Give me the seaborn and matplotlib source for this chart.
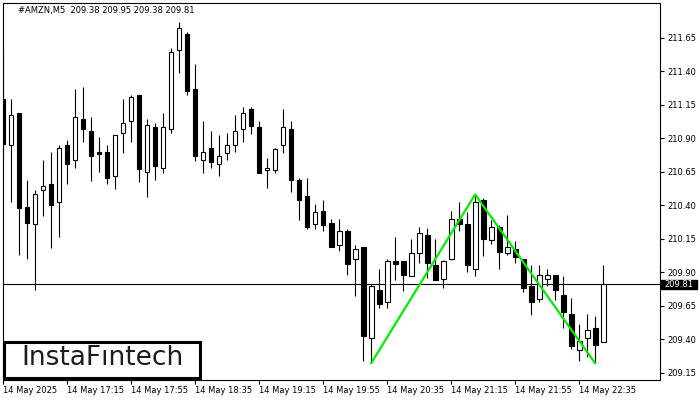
import numpy as np
import pandas as pd
import matplotlib
matplotlib.use("Agg")
import matplotlib.pyplot as plt
import matplotlib.transforms as mtransforms
from matplotlib.patches import Rectangle
import seaborn as sns

# AMZN M5 candles, 14 May 2025 16:35 .. 22:50
opens = [211.19, 210.85, 211.09, 210.39, 210.26, 210.51, 210.56, 210.42, 210.85, 210.74,
         211.04, 210.95, 210.80, 210.80, 210.62, 210.94, 211.03, 211.22, 210.65, 210.98,
         210.68, 210.97, 211.56, 211.68, 211.27, 210.74, 210.83, 210.71, 210.79, 210.85,
         210.97, 211.12, 210.98, 210.66, 210.66, 210.85, 210.97, 210.59, 210.47, 210.26,
         210.36, 210.27, 210.10, 210.21, 210.00, 210.09, 209.41, 209.77, 209.68, 209.98,
         209.98, 209.87, 210.04, 210.18, 209.95, 209.85, 210.00, 210.30, 210.26, 209.92,
         210.44, 210.14, 210.24, 210.04, 210.07, 210.00, 209.80, 209.70, 209.85, 209.88,
         209.73, 209.59, 209.32, 209.41, 209.48, 209.38]
highs = [211.53, 211.19, 211.09, 210.59, 210.51, 210.74, 210.80, 210.85, 210.89, 211.27,
         211.28, 211.06, 210.91, 210.85, 210.92, 211.19, 211.22, 211.22, 211.04, 211.01,
         211.09, 211.57, 211.77, 211.69, 211.45, 211.03, 210.95, 210.92, 210.94, 211.07,
         211.13, 211.13, 211.03, 210.75, 210.83, 211.12, 211.03, 210.60, 210.60, 210.41,
         210.44, 210.30, 210.30, 210.22, 210.10, 210.09, 209.81, 209.92, 210.00, 210.16,
         209.98, 210.15, 210.24, 210.23, 210.15, 209.99, 210.36, 210.42, 210.35, 210.48,
         210.45, 210.29, 210.25, 210.33, 210.13, 210.00, 209.95, 209.95, 209.92, 209.88,
         209.87, 209.71, 209.51, 209.59, 209.57, 209.95]
lows = [210.79, 210.42, 210.03, 210.00, 209.77, 210.32, 210.08, 210.16, 210.56, 210.68,
        210.87, 210.58, 210.65, 210.56, 210.52, 210.79, 210.87, 210.57, 210.46, 210.59,
        210.64, 210.94, 211.39, 211.22, 210.73, 210.64, 210.68, 210.62, 210.74, 210.80,
        210.87, 210.93, 210.64, 210.53, 210.64, 210.79, 210.50, 210.29, 210.22, 210.22,
        210.21, 210.09, 210.06, 209.88, 209.72, 209.24, 209.22, 209.63, 209.63, 209.84,
        209.76, 209.87, 209.97, 209.86, 209.84, 209.78, 209.99, 210.21, 209.90, 209.87,
        210.02, 210.11, 209.92, 210.03, 209.97, 209.75, 209.58, 209.68, 209.80, 209.69,
        209.48, 209.33, 209.24, 209.27, 209.22, 209.38]
closes = [210.86, 211.07, 210.38, 210.27, 210.48, 210.54, 210.40, 210.83, 210.71, 211.06,
          210.97, 210.77, 210.78, 210.60, 210.92, 211.01, 211.21, 210.67, 211.00, 210.69,
          210.98, 211.54, 211.72, 211.25, 210.77, 210.80, 210.72, 210.77, 210.85, 210.95,
          211.09, 210.99, 210.64, 210.68, 210.82, 210.98, 210.59, 210.44, 210.24, 210.35,
          210.25, 210.09, 210.21, 209.96, 210.07, 209.42, 209.80, 209.66, 209.98, 209.96,
          209.88, 210.04, 210.19, 209.97, 209.84, 209.98, 210.30, 210.26, 209.95, 210.42,
          210.15, 210.24, 210.05, 210.09, 210.01, 209.78, 209.68, 209.88, 209.88, 209.77,
          209.60, 209.35, 209.39, 209.47, 209.36, 209.81]

time_tick_idx = [0, 8, 16, 24, 32, 40, 48, 56, 64, 72]
time_tick_labels = ["14 May 2025", "14 May 17:15", "14 May 17:55", "14 May 18:35",
                    "14 May 19:15", "14 May 19:55", "14 May 20:35", "14 May 21:15",
                    "14 May 21:55", "14 May 22:35"]
price_ticks = [209.15, 209.40, 209.65, 209.90, 210.15, 210.40, 210.65, 210.90,
               211.15, 211.40, 211.65]

# double top pattern line
pattern_idx = [46, 59, 74]
pattern_price = [209.22, 210.48, 209.22]

last_price = 209.81
header = "#AMZN,M5  209.38 209.95 209.38 209.81"

sns.set_style("ticks")
plt.rcParams['font.family'] = ['DejaVu Sans']

df = pd.DataFrame({'open': opens, 'high': highs, 'low': lows, 'close': closes})
df['i'] = np.arange(len(df))
df['up'] = df['close'] >= df['open']
df['bottom'] = df[['open', 'close']].min(axis=1)
df['height'] = (df['close'] - df['open']).abs().clip(lower=0.008)

fig = plt.figure(figsize=(7, 4), dpi=100)
ax = fig.add_axes([2.5 / 700, (400 - 379.5) / 400, 657.5 / 700, 376.8 / 400])

ax.axhline(last_price, color='black', lw=0.8, zorder=1)
ax.vlines(df['i'], df['low'], df['high'], color='black', lw=0.8, zorder=2)
ax.bar(df['i'], df['height'], bottom=df['bottom'], width=0.6,
       color=np.where(df['up'], 'white', 'black'), edgecolor='black',
       linewidth=0.8, zorder=3)

pat = pd.DataFrame({'i': pattern_idx, 'p': pattern_price})
sns.lineplot(data=pat, x='i', y='p', sort=False, color='#00ee00', lw=1.6, ax=ax, zorder=4)

ax.set_xlim(-0.0625, 82.1)
ax.set_ylim(209.099, 211.911)
ax.set_xlabel('')
ax.set_ylabel('')

ax.set_xticks(time_tick_idx)
ax.set_xticklabels(time_tick_labels, ha='left', fontsize=6)
ax.yaxis.tick_right()
ax.set_yticks(price_ticks)
ax.set_yticklabels(["%.2f" % v for v in price_ticks], fontsize=6)
ax.tick_params(axis='both', direction='out', length=3, width=0.8, pad=2, colors='black')
for s in ax.spines.values():
    s.set_visible(True)
    s.set_color('black')
    s.set_linewidth(0.8)

# last price box on the scale
tr = mtransforms.blended_transform_factory(ax.transAxes, ax.transData)
ax.add_patch(Rectangle((1.0015, last_price - 0.032), 0.0548, 0.064, transform=tr,
                       facecolor='black', edgecolor='black', clip_on=False, zorder=5))
ax.text(1.0015 + 0.0274, last_price, "%.2f" % last_price, transform=tr, ha='center',
        va='center', color='white', fontsize=6, clip_on=False, zorder=6)

ax.text(0.0236, 0.978, header, transform=ax.transAxes, ha='left', va='center',
        fontsize=6, color='black')

# logo
fig.patches.append(Rectangle((3.5 / 700, 22.5 / 400), 196 / 700, 36 / 400,
                             transform=fig.transFigure, facecolor='white',
                             edgecolor='black', linewidth=2.2, zorder=10))
fig.text(102 / 700, 42 / 400, "InstaFıntech", ha='center', va='center',
         fontsize=19, color='#1c1c1c', zorder=11)

fig.savefig("out.png", dpi=100)
